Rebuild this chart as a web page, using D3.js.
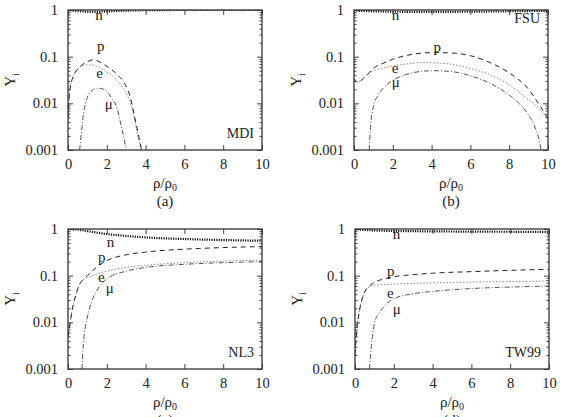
<!DOCTYPE html>
<html>
<head>
<meta charset="utf-8">
<script src="https://cdn.jsdelivr.net/npm/d3@7"></script>
<style>
  body { margin: 0; background: #fff; }
  svg { display: block; }
  svg text { font-family: "Liberation Serif", "Times New Roman", Times, serif; }
</style>
</head>
<body>
<div id="chart"></div>
<script>
// density axis (rho/rho0) and fractions
var xTicks = [0, 2, 4, 6, 8, 10];
var yTicks = [0.001, 0.01, 0.1, 1];
var yTickLabels = ["0.001", "0.01", "0.1", "1"];

// (a) MDI
var mdiN = [[0,0.99],[0.5,0.95],[1,0.92],[1.5,0.91],[2,0.93],[3,0.97],[4,0.99],[6,1],[10,1]];
var mdiP = [[0,0.005],[0.05,0.012],[0.1,0.02],[0.25,0.036],[0.5,0.054],[0.75,0.068],[1,0.078],[1.25,0.085],[1.5,0.082],[1.75,0.072],[2,0.062],[2.32,0.05],[2.6,0.039],[2.84,0.03],[3.09,0.019],[3.2,0.014],[3.35,0.0075],[3.5,0.0038],[3.61,0.0023],[3.72,0.0014],[3.8,0.001]];
var mdiE = [[0,0.005],[0.05,0.012],[0.1,0.02],[0.25,0.036],[0.5,0.054],[0.75,0.064],[1,0.067],[1.25,0.066],[1.5,0.062],[2,0.047],[2.5,0.032],[2.85,0.021],[3.15,0.012],[3.35,0.0065],[3.55,0.0025],[3.68,0.0014],[3.75,0.001]];
var mdiMu = [[0.6,0.001],[0.65,0.0016],[0.7,0.0025],[0.8,0.006],[0.9,0.01],[1,0.0135],[1.25,0.019],[1.5,0.021],[1.75,0.0205],[2,0.018],[2.25,0.013],[2.5,0.0085],[2.75,0.0032],[2.9,0.0017],[3,0.001]];

// (b) FSU
var fsuN = [[0,0.97],[1,0.94],[2,0.92],[4,0.91],[6,0.92],[8,0.94],[10,0.96]];
var fsuP = [[0,0.034],[0.2,0.028],[0.5,0.035],[0.8,0.046],[1,0.056],[1.5,0.072],[2,0.088],[3,0.112],[4,0.122],[5,0.12],[6,0.105],[7,0.075],[8,0.045],[9,0.02],[9.5,0.01],[10,0.0047]];
var fsuE = [[0,0.034],[0.2,0.028],[0.5,0.035],[0.8,0.045],[1,0.05],[1.5,0.057],[2,0.063],[3,0.072],[3.5,0.075],[4,0.074],[5,0.069],[6,0.056],[7,0.041],[8,0.025],[9,0.012],[9.5,0.008],[10,0.0045]];
var fsuMu = [[0.78,0.001],[0.85,0.003],[1,0.0085],[1.25,0.015],[1.5,0.021],[2,0.031],[2.5,0.039],[3,0.045],[4,0.05],[5,0.048],[6,0.039],[7,0.027],[8,0.015],[8.5,0.01],[9,0.0056],[9.3,0.0033],[9.5,0.0019],[9.65,0.001]];

// (c) NL3
var nl3N = [[0,1],[0.5,0.97],[1,0.9],[2,0.78],[3,0.71],[4,0.66],[6,0.61],[8,0.58],[10,0.56]];
var nl3P = [[0,0.005],[0.1,0.009],[0.2,0.017],[0.4,0.038],[0.6,0.065],[0.75,0.08],[1,0.1],[1.5,0.155],[2,0.21],[3,0.28],[4,0.32],[6,0.37],[8,0.4],[10,0.42]];
var nl3E = [[0,0.005],[0.1,0.009],[0.2,0.017],[0.4,0.038],[0.6,0.065],[0.75,0.08],[1,0.09],[1.5,0.11],[2,0.125],[3,0.15],[4,0.167],[6,0.19],[8,0.205],[10,0.215]];
var nl3Mu = [[0.72,0.001],[0.78,0.003],[0.85,0.006],[1,0.013],[1.25,0.03],[1.5,0.049],[2,0.085],[3,0.125],[4,0.15],[6,0.175],[8,0.19],[10,0.2]];

// (d) TW99
var twN = [[0,0.99],[0.5,0.96],[1,0.93],[2,0.91],[4,0.89],[7,0.875],[10,0.87]];
var twP = [[0,0.002],[0.05,0.004],[0.1,0.007],[0.2,0.015],[0.35,0.03],[0.5,0.045],[0.75,0.06],[1,0.072],[1.5,0.085],[2,0.095],[3,0.105],[4,0.113],[6,0.122],[8,0.13],[10,0.137]];
var twE = [[0,0.002],[0.05,0.004],[0.1,0.007],[0.2,0.015],[0.35,0.03],[0.5,0.045],[0.75,0.058],[1,0.062],[2,0.066],[4,0.07],[6,0.073],[8,0.075],[10,0.077]];
var twMu = [[0.75,0.001],[0.8,0.002],[0.9,0.005],[1,0.0095],[1.25,0.016],[1.5,0.022],[2,0.032],[3,0.041],[4,0.046],[6,0.053],[8,0.057],[10,0.06]];

var panels = [
  { left: 68, top: 10, tag: "(a)", model: "MDI", modelAt: [10, 0.0018], n: mdiN, p: mdiP, e: mdiE, mu: mdiMu,
    labels: { n: [1.4, 0.62], p: [1.5, 0.135], e: [1.45, 0.035], mu: [1.9, 0.0075] } },
  { left: 354, top: 10, tag: "(b)", model: "FSU", modelAt: [10, 0.52], n: fsuN, p: fsuP, e: fsuE, mu: fsuMu,
    labels: { n: [1.95, 0.62], p: [4.1, 0.125], e: [1.95, 0.045], mu: [1.95, 0.022] } },
  { left: 68, top: 229, tag: "(c)", model: "NL3", modelAt: [10, 0.0018], n: nl3N, p: nl3P, e: nl3E, mu: nl3Mu,
    labels: { n: [2, 0.42], p: [1.55, 0.2], e: [1.55, 0.072], mu: [1.95, 0.042] } },
  { left: 355, top: 229, tag: "(d)", model: "TW99", modelAt: [10, 0.0018], n: twN, p: twP, e: twE, mu: twMu,
    labels: { n: [1.95, 0.62], p: [1.65, 0.1], e: [1.65, 0.034], mu: [1.95, 0.015] } }
];

var width = 194, height = 140;

var svg = d3.select("#chart").append("svg")
  .attr("width", 561)
  .attr("height", 417);

var styles = {
  n:  { color: "#111", width: 2.2, dash: "1.2,1.2" },
  p:  { color: "#222", width: 1, dash: "5,4" },
  e:  { color: "#888", width: 1, dash: "1.5,1.8" },
  mu: { color: "#555", width: 1, dash: "5,2,1,2" }
};
var labelText = { n: "n", p: "p", e: "e", mu: "\u03bc" };

panels.forEach(function (pn) {
  var x = d3.scaleLinear().domain([0, 10]).range([0, width]);
  var y = d3.scaleLog().domain([0.001, 1]).range([height, 0]);

  var g = svg.append("g").attr("transform", "translate(" + pn.left + "," + pn.top + ")");

  var clipId = "clip" + pn.model;
  g.append("clipPath").attr("id", clipId)
    .append("rect").attr("width", width).attr("height", height);

  var line = d3.line()
    .x(function (d) { return x(d[0]); })
    .y(function (d) { return y(d[1]); })
    .curve(d3.curveMonotoneX);

  //curves
  ["e", "mu", "p", "n"].forEach(function (k) {
    g.append("path")
      .datum(pn[k])
      .attr("clip-path", "url(#" + clipId + ")")
      .attr("d", line)
      .attr("fill", "none")
      .attr("stroke", styles[k].color)
      .attr("stroke-width", styles[k].width)
      .attr("stroke-dasharray", styles[k].dash);
  });

  //ticks on all four sides, pointing inward
  var minor = [];
  [0.001, 0.01, 0.1].forEach(function (d) {
    for (var m = 2; m <= 9; m++) minor.push(d * m);
  });

  g.append("g").attr("transform", "translate(0," + height + ")")
    .call(d3.axisBottom(x).tickValues(xTicks).tickSize(-5).tickPadding(9).tickFormat(d3.format("d")));
  g.append("g")
    .call(d3.axisTop(x).tickValues(xTicks).tickSize(-5).tickFormat(""));
  g.append("g")
    .call(d3.axisLeft(y).tickValues(yTicks).tickSize(-5).tickPadding(10)
      .tickFormat(function (d, i) { return yTickLabels[i]; }));
  g.append("g").attr("transform", "translate(" + width + ",0)")
    .call(d3.axisRight(y).tickValues(yTicks).tickSize(-5).tickFormat(""));
  g.append("g")
    .call(d3.axisLeft(y).tickValues(minor).tickSize(-2.5).tickFormat(""));
  g.append("g").attr("transform", "translate(" + width + ",0)")
    .call(d3.axisRight(y).tickValues(minor).tickSize(-2.5).tickFormat(""));

  g.selectAll(".domain").remove();
  g.selectAll(".tick line").attr("stroke", "#444");
  g.selectAll(".tick text")
    .attr("font-family", null)
    .attr("font-size", null)
    .style("font-size", "14.5px")
    .attr("fill", "#222");

  //border
  g.append("rect")
    .attr("width", width).attr("height", height)
    .attr("fill", "none").attr("stroke", "#333").attr("stroke-width", 1.3);

  //curve labels
  Object.keys(pn.labels).forEach(function (k) {
    g.append("text")
      .attr("x", x(pn.labels[k][0]))
      .attr("y", y(pn.labels[k][1]))
      .attr("text-anchor", "start")
      .style("font-size", "15px")
      .attr("fill", "#222")
      .text(labelText[k]);
  });

  //model name
  g.append("text")
    .attr("x", x(pn.modelAt[0]) - 8)
    .attr("y", y(pn.modelAt[1]))
    .attr("text-anchor", "end")
    .style("font-size", "14px")
    .attr("fill", "#222")
    .text(pn.model);

  //x axis title rho/rho_0
  var xt = g.append("text")
    .attr("x", width / 2)
    .attr("y", height + 38)
    .attr("text-anchor", "middle")
    .style("font-size", "15px")
    .attr("fill", "#222");
  xt.append("tspan").text("\u03c1/\u03c1");
  xt.append("tspan").attr("dy", 3).style("font-size", "10px").text("0");

  //panel tag
  g.append("text")
    .attr("x", width / 2)
    .attr("y", height + 56)
    .attr("text-anchor", "middle")
    .style("font-size", "15px")
    .attr("fill", "#222")
    .text(pn.tag);

  //y axis title Y_i
  var yt = g.append("text")
    .attr("transform", "translate(-53," + (height / 2) + ") rotate(-90)")
    .attr("text-anchor", "middle")
    .style("font-size", "15px")
    .attr("fill", "#222");
  yt.append("tspan").text("Y");
  yt.append("tspan").attr("dy", 4).style("font-size", "10px").text("i");
});
</script>
</body>
</html>
